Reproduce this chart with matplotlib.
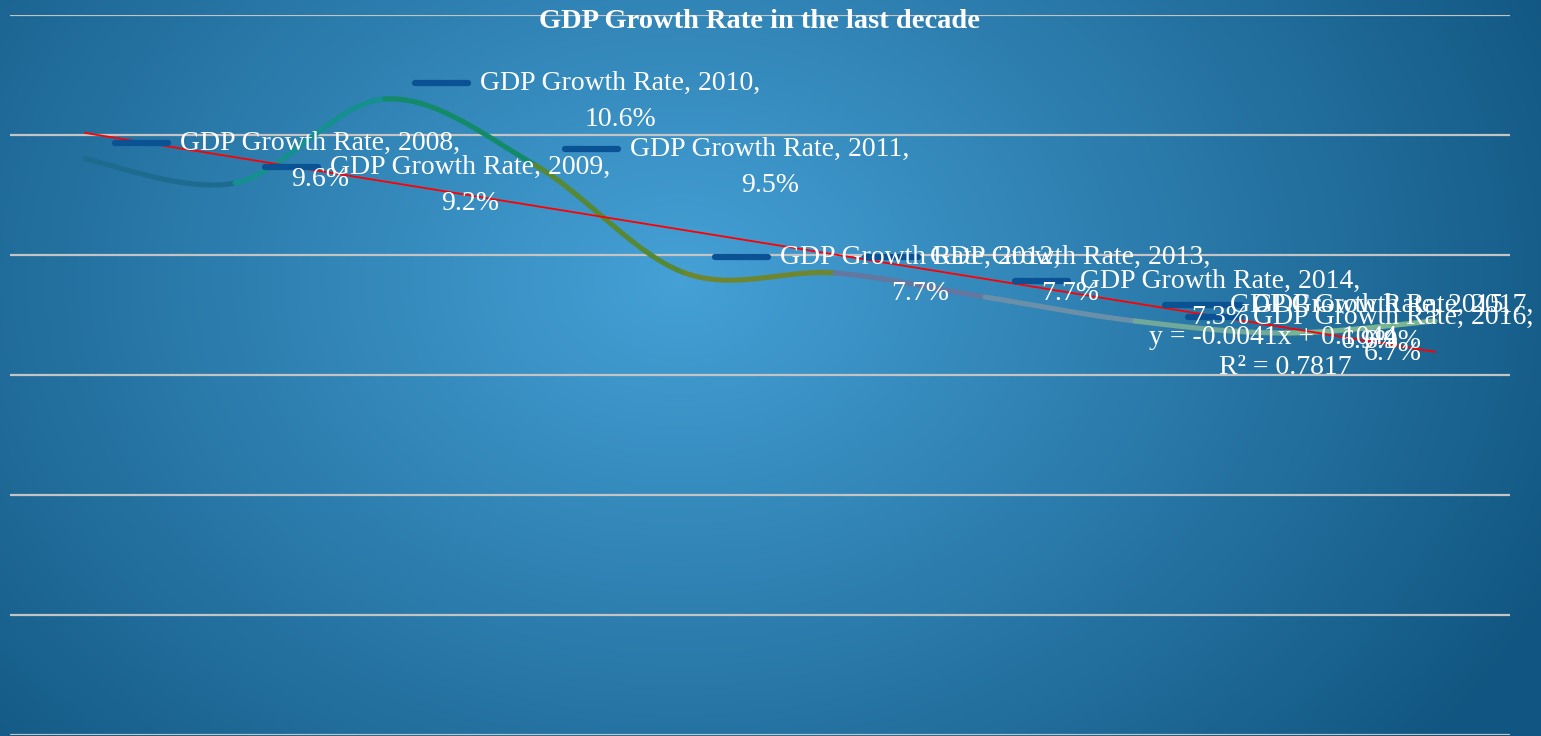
import numpy as np
import matplotlib
matplotlib.use("Agg")
import matplotlib.pyplot as plt
from matplotlib.lines import Line2D
from matplotlib.transforms import IdentityTransform

# GDP growth, percent
years = ["2008", "2009", "2010", "2011", "2012", "2013", "2014", "2015", "2016", "2017"]
growth = [9.6, 9.2, 10.6, 9.5, 7.7, 7.7, 7.3, 6.9, 6.7, 6.9]
seg_colors = ["#1d6c8f", "#14908e", "#138a68", "#578934", "#6f8630",
              "#6477a0", "#6a8fa9", "#70a99a", "#7ab592"]
series_name = "GDP Growth Rate"
title = "GDP Growth Rate in the last decade"

W, H = 1541, 736
plt.rcParams['font.family'] = ['Liberation Serif', 'DejaVu Serif']

fig = plt.figure(figsize=(W / 100, H / 100), dpi=100)

# radial gradient background
bg = fig.add_axes([0, 0, 1, 1], zorder=-5)
X, Y = np.meshgrid(np.arange(W), np.arange(H))
r = np.sqrt(((X - 680) / (W * 0.62)) ** 2 + ((Y - 280) / (H * 1.0)) ** 2)
r = np.clip(r, 0, 1)[..., None]
c0 = np.array([0.27, 0.63, 0.84])
c1 = np.array([0.07, 0.34, 0.51])
bg.imshow(c0 * (1 - r) + c1 * r, aspect='auto', extent=[0, W, H, 0])
bg.axis('off')

ax = fig.add_axes([10 / W, 1 / H, 1500 / W, 720 / H])
ax.set_facecolor('none')
x = np.arange(1, len(growth) + 1)
y = np.array(growth)
ax.set_xlim(0.5, len(growth) + 0.5)
ax.set_ylim(0, 12)
ax.set_yticks(range(0, 13, 2))
ax.set_xticks([])
ax.grid(axis='y', color='#c4c4c4', lw=1.6)
ax.tick_params(left=False, labelleft=False)
for s in ax.spines.values():
    s.set_visible(False)

# smoothed line (catmull-rom style bezier like excel), one colour per segment
pts = np.column_stack([x, y]).astype(float)
t = np.linspace(0, 1, 60)[:, None]
for i in range(len(pts) - 1):
    p0 = pts[max(i - 1, 0)]
    p1 = pts[i]
    p2 = pts[i + 1]
    p3 = pts[min(i + 2, len(pts) - 1)]
    b1 = p1 + (p2 - p0) / 6
    b2 = p2 - (p3 - p1) / 6
    curve = ((1 - t) ** 3) * p1 + 3 * ((1 - t) ** 2) * t * b1 + 3 * (1 - t) * t ** 2 * b2 + t ** 3 * p2
    ax.plot(curve[:, 0], curve[:, 1], color=seg_colors[i], lw=3.7,
            solid_capstyle='round', zorder=3)

# linear trendline on fractions
frac = y / 100
slope, intercept = np.polyfit(x, frac, 1)
pred = slope * x + intercept
r2 = 1 - np.sum((frac - pred) ** 2) / np.sum((frac - frac.mean()) ** 2)
ax.plot([x[0], x[-1]], [100 * pred[0], 100 * pred[-1]], color='red', lw=1.3, zorder=4)

# data labels with legend keys
fs = 20
fig.canvas.draw()
renderer = fig.canvas.get_renderer()
right_limit = W - 8
for xi, yi, yr in zip(x, y, years):
    px, py = ax.transData.transform((xi, yi))
    line1 = f"{series_name}, {yr},"
    t1 = fig.text(0, 0, line1, color='white', fontsize=fs, ha='left', va='center',
                  transform=IdentityTransform(), zorder=6)
    w = t1.get_window_extent(renderer).width
    left = px + 30
    shift = max(0, left + 65 + w - right_limit)
    left -= shift
    t1.set_position((left + 65, py + 16))
    fig.text(left + 65 + w / 2, py - 20, f"{yi}%", color='white', fontsize=fs,
             ha='center', va='center', transform=IdentityTransform(), zorder=6)
    fig.add_artist(Line2D([left, left + 53], [py + 16, py + 16], color='#0b5294',
                          lw=4.5, solid_capstyle='round', transform=IdentityTransform(),
                          zorder=5))

# trendline equation
ex, ey = ax.transData.transform((x[-1], 100 * pred[-1]))
fig.text(ex - 162, ey + 14, f"y = {slope:.4f}x + {intercept:.4f}", color='white',
         fontsize=fs, ha='center', va='center', transform=IdentityTransform(), zorder=6)
fig.text(ex - 150, ey - 16, f"R² = {r2:.4f}", color='white',
         fontsize=fs, ha='center', va='center', transform=IdentityTransform(), zorder=6)

fig.text(0.493, 1 - 21 / H, title, color='white', fontsize=20.5, fontweight='bold',
         ha='center', va='center')

fig.savefig("out.png", dpi=100)
